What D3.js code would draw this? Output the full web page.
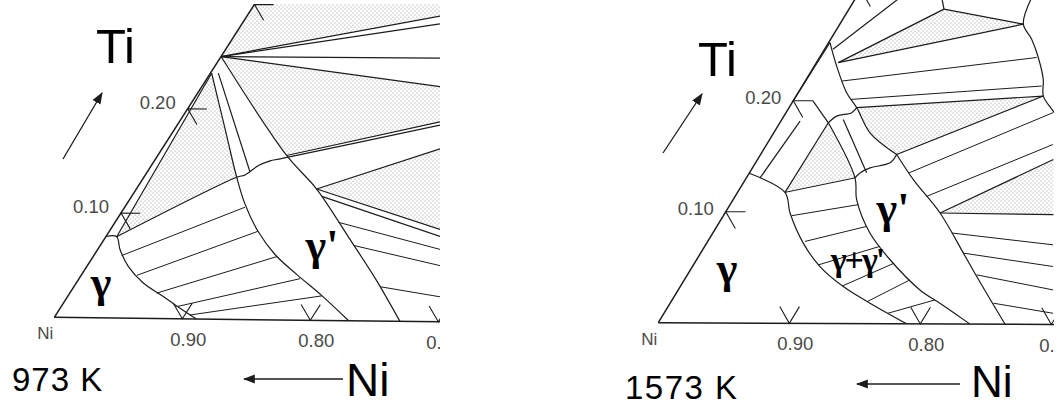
<!DOCTYPE html>
<html>
<head>
<meta charset="utf-8">
<script src="https://cdn.jsdelivr.net/npm/d3@7/dist/d3.min.js"></script>
<style>
html,body{margin:0;padding:0;background:#fff;}
svg{display:block;}
</style>
</head>
<body>
<svg id="chart" width="1062" height="410"></svg>
<script>
// Isothermal sections, Ni-rich corner. Every point is [xNi, xTi] (mole fractions).
const niTicks = [0.90, 0.80, 0.70];
const niTickLabels = ["0.90", "0.80", "0.70"];
const tiTicks = [0.10, 0.20, 0.30];
const tiTickLabels = ["0.10", "0.20", ""];

// ---------- 973 K ----------
const gammaBoundary973 = [[0.9225,0.0775],[0.9142,0.0774],[0.9174,0.0653],[0.9186,0.0493],[0.9144,0.0336],[0.9048,0.021],[0.897,0.01],[0.889,0]];
const bandLine973 = [[0.9142,0.0774],[0.765,0.234]];
const gpLeft973 = [[0.765,0.234],[0.7797,0.1815],[0.7927,0.1353],[0.7984,0.1098],[0.8006,0.0841],[0.7978,0.0622],[0.7897,0.0433],[0.7796,0.0234],[0.770,0]];
const gpRight973 = [[0.75,0.25],[0.7435,0.1566],[0.7352,0.125],[0.7319,0.0774],[0.7298,0.0394],[0.730,0]];
const thinLine973 = [[0.7597,0.2342],[0.7798,0.1405]];
const threePhase973 = [[0.9142,0.0774],[0.7927,0.1353],[0.7851,0.1376],[0.7707,0.1464],[0.759,0.1513],[0.7503,0.1533],[0.6091,0.1871]];
const straight973 = [
  [[0.7435,0.1566],[0.6075,0.1903]],
  [[0.75,0.25],[0.559,0.291]],
  [[0.75,0.25],[0.5629,0.2836]],
  [[0.75,0.25],[0.5785,0.251]],
  [[0.75,0.25],[0.5914,0.2239]],
  [[0.7352,0.125],[0.6198,0.1647]],
  [[0.7352,0.125],[0.6565,0.088]],
  [[0.7345,0.118],[0.6597,0.0813]]
];
const ties973 = [
  [[0.9189,0.0595],[0.7998,0.1069]],
  [[0.9161,0.0408],[0.8006,0.0841]],
  [[0.9084,0.0242],[0.7971,0.0603]],
  [[0.8989,0.0115],[0.7891,0.0395]],
  [[0.8923,0.0037],[0.7796,0.0234]],
  [[0.733,0.0935],[0.6656,0.0689]],
  [[0.7317,0.0717],[0.6731,0.0535]],
  [[0.7296,0.0327],[0.6873,0.0238]]
];
const dotted973 = [
  [[0.75,0.25],[0.69,0.31],[0.5518,0.3066],[0.559,0.291]],
  [[0.75,0.25],[0.5914,0.2239],[0.6075,0.1903],[0.7435,0.1566]],
  [[0.9142,0.0774],[0.765,0.234],[0.7797,0.1815],[0.7927,0.1353]],
  [[0.7352,0.125],[0.6198,0.1647],[0.6565,0.088]]
];

// ---------- 1573 K ----------
const gammaBoundary1573 = [[0.8654,0.1346],[0.8463,0.1176],[0.8514,0.0991],[0.8544,0.0721],[0.8518,0.0511],[0.8427,0.0332],[0.8295,0.0184],[0.8104,0]];
const gpLeft1573 = [[0.7828,0.1803],[0.7864,0.1309],[0.7946,0.1114],[0.799,0.0814],[0.7952,0.0575],[0.7855,0.0305],[0.776,0.0186],[0.762,0]];
const gpRight1573 = [[0.7443,0.1521],[0.7425,0.1296],[0.7366,0.0997],[0.7362,0.0638],[0.7362,0.0428],[0.7353,0]];
const gpTop1573 = [[0.7864,0.1309],[0.7804,0.1354],[0.7705,0.14],[0.753,0.1446],[0.7443,0.1521]];
const apexLine1573 = [[0.7828,0.1803],[0.7735,0.1863],[0.7605,0.1895],[0.7545,0.194]];
const innerArc1573 = [[0.7443,0.1521],[0.7553,0.1715],[0.7545,0.194],[0.7557,0.2074],[0.7517,0.2314],[0.7466,0.2524]];
const outerArc1573 = [[0.5738,0.2923],[0.5906,0.2697],[0.5908,0.2562],[0.5937,0.2398],[0.5994,0.2202],[0.6066,0.2052],[0.6056,0.1917],[0.6047,0.1798]];
const straight1573 = [
  [[0.8591,0.1305],[0.8037,0.1817]],
  [[0.785,0.2],[0.7828,0.1803]],
  [[0.8,0.2],[0.7466,0.2524]],
  [[0.8463,0.1176],[0.7828,0.1803]],
  [[0.7699,0.1834],[0.7753,0.1355]],
  [[0.6448,0.2829],[0.749,0.2344]],
  [[0.749,0.2344],[0.5906,0.2697]],
  [[0.6448,0.2829],[0.5906,0.2697]],
  [[0.6448,0.2829],[0.6419,0.2919]],
  [[0.7472,0.2464],[0.6756,0.2917]],
  [[0.7545,0.194],[0.6066,0.2052]],
  [[0.6066,0.2052],[0.7443,0.1521]],
  [[0.7366,0.0997],[0.6266,0.1482]],
  [[0.7366,0.0997],[0.6506,0.0987]]
];
const ties1573 = [
  [[0.8463,0.1176],[0.7864,0.1309]],
  [[0.8513,0.0967],[0.7955,0.1069]],
  [[0.8524,0.0736],[0.7985,0.0874]],
  [[0.852,0.0527],[0.7975,0.0694]],
  [[0.843,0.0338],[0.7935,0.0545]],
  [[0.831,0.0198],[0.7887,0.0395]],
  [[0.8202,0.0094],[0.7784,0.0216]],
  [[0.754,0.2179],[0.5949,0.2398]],
  [[0.7552,0.2014],[0.6035,0.2142]],
  [[0.743,0.1356],[0.6065,0.1903]],
  [[0.7396,0.1146],[0.6204,0.1617]],
  [[0.7364,0.0818],[0.664,0.0716]],
  [[0.7362,0.0638],[0.6735,0.0521]],
  [[0.7355,0.0443],[0.6836,0.0311]],
  [[0.7351,0.0189],[0.6938,0.0101]]
];
const dotted1573 = [
  [[0.8463,0.1176],[0.7828,0.1803],[0.7864,0.1309]],
  [[0.6448,0.2829],[0.749,0.2344],[0.5906,0.2697]],
  [[0.7545,0.194],[0.6066,0.2052],[0.7443,0.1521],[0.7553,0.1715]],
  [[0.7366,0.0997],[0.6266,0.1482],[0.6506,0.0987]]
];

const svg = d3.select("#chart");
const defs = svg.append("defs");

// fine dot screen used for three-phase fields
const pat = defs.append("pattern").attr("id", "dots")
  .attr("patternUnits", "userSpaceOnUse").attr("width", 4).attr("height", 4);
pat.append("circle").attr("cx", 1).attr("cy", 1).attr("r", 0.6).attr("fill", "#8a8a8a");
pat.append("circle").attr("cx", 3).attr("cy", 3).attr("r", 0.6).attr("fill", "#8a8a8a");

const sans = "'Liberation Sans', Arial, Helvetica, sans-serif";
const serif = "'Liberation Serif', 'Times New Roman', serif";
const ink = "#1c1c1c";

defs.append("marker").attr("id", "head").attr("viewBox", "0 0 10 10")
  .attr("refX", 9).attr("refY", 5).attr("markerWidth", 12).attr("markerHeight", 12)
  .attr("markerUnits", "userSpaceOnUse").attr("orient", "auto")
  .append("path").attr("d", "M0,1.2 L10,5 L0,8.8 Z").attr("fill", ink);

function drawPanel(cfg) {
  // Two linear scales per barycentric direction: third component along the base, xTi up the side.
  const baseX = d3.scaleLinear().domain([0, 1]).range([cfg.corner[0], cfg.corner[0] + cfg.base[0]]);
  const baseY = d3.scaleLinear().domain([0, 1]).range([cfg.corner[1], cfg.corner[1] + cfg.base[1]]);
  const sideX = d3.scaleLinear().domain([0, 1]).range([0, cfg.side[0]]);
  const sideY = d3.scaleLinear().domain([0, 1]).range([0, cfg.side[1]]);
  const px = d => baseX(1 - d[0] - d[1]) + sideX(d[1]);
  const py = d => baseY(1 - d[0] - d[1]) + sideY(d[1]);

  const straight = d3.line().x(px).y(py);
  const smooth = d3.line().x(px).y(py).curve(d3.curveCatmullRom.alpha(0.5));

  const clipId = "clip" + cfg.key;
  defs.append("clipPath").attr("id", clipId).append("rect")
    .attr("x", cfg.clip[0]).attr("y", cfg.clip[1])
    .attr("width", cfg.clip[2] - cfg.clip[0]).attr("height", cfg.clip[3] - cfg.clip[1]);
  const textClipId = "tclip" + cfg.key;
  defs.append("clipPath").attr("id", textClipId).append("rect")
    .attr("x", cfg.clip[0]).attr("y", 0)
    .attr("width", cfg.clip[2] - cfg.clip[0]).attr("height", 410);

  const g = svg.append("g").attr("clip-path", `url(#${clipId})`);

  g.selectAll("path.dots").data(cfg.dotted).join("path")
    .attr("class", "dots").attr("d", d => straight(d) + "Z")
    .attr("fill", "url(#dots)").attr("stroke", "none");

  // triangle sides: Ni-Ti binary and Ni-X binary
  const sides = [[[1, 0], [0.68, 0.32]], [[1, 0], [0.68, 0]]];
  g.selectAll("path.side").data(sides).join("path").attr("class", "side")
    .attr("d", straight).attr("fill", "none").attr("stroke", ink).attr("stroke-width", 1.5);

  g.selectAll("path.curve").data(cfg.curves).join("path").attr("class", "curve")
    .attr("d", smooth).attr("fill", "none").attr("stroke", ink).attr("stroke-width", 1.2);

  g.selectAll("path.line").data(cfg.lines).join("path").attr("class", "line")
    .attr("d", straight).attr("fill", "none").attr("stroke", ink).attr("stroke-width", 1.2);

  g.selectAll("path.tie").data(cfg.ties).join("path").attr("class", "tie")
    .attr("d", straight).attr("fill", "none").attr("stroke", ink).attr("stroke-width", 1);

  // tick marks: short strokes parallel to the other two sides
  const L = 0.015;
  const baseTicks = niTicks.map(v => [[v - L, L], [v, 0], [v, L]]);
  const sideTicks = tiTicks.map(v => [[1 - v - L, v], [1 - v, v], [1 - v, v - L]]);
  g.selectAll("path.tick").data(baseTicks.concat(sideTicks)).join("path").attr("class", "tick")
    .attr("d", straight).attr("fill", "none").attr("stroke", ink).attr("stroke-width", 1.1);

  const tg = svg.append("g").attr("clip-path", `url(#${textClipId})`);
  tg.selectAll("text.nt").data(niTicks).join("text").attr("class", "nt")
    .attr("x", v => px([v, 0]) + 6).attr("y", v => py([v, 0]) + 27)
    .attr("text-anchor", "middle").attr("font-family", sans).attr("font-size", 18.5)
    .attr("fill", "#4a4a4a").text((v, i) => niTickLabels[i]);

  tg.selectAll("text.tt").data(tiTicks).join("text").attr("class", "tt")
    .attr("x", v => px([1 - v, v]) - 12).attr("y", v => py([1 - v, v]) + cfg.tiDy)
    .attr("text-anchor", "end").attr("font-family", sans).attr("font-size", 18.5)
    .attr("fill", "#4a4a4a").text((v, i) => tiTickLabels[i]);

  tg.append("text").attr("x", px([1, 0]) - 9).attr("y", py([1, 0]) + 22)
    .attr("text-anchor", "middle").attr("font-family", sans).attr("font-size", 17)
    .attr("fill", "#4a4a4a").text("Ni");

  const t = cfg.text;
  svg.append("text").attr("x", t.ti[0]).attr("y", t.ti[1]).attr("font-family", sans)
    .attr("font-size", 49).attr("fill", "#000").text("Ti");
  svg.append("line").attr("x1", t.upArrow[0]).attr("y1", t.upArrow[1])
    .attr("x2", t.upArrow[2]).attr("y2", t.upArrow[3])
    .attr("stroke", ink).attr("stroke-width", 1.3).attr("marker-end", "url(#head)");
  svg.append("text").attr("x", t.temp[0]).attr("y", t.temp[1]).attr("font-family", sans)
    .attr("font-size", 33).attr("letter-spacing", t.temp[2]).attr("fill", "#000").text(cfg.label);
  svg.append("line").attr("x1", t.niArrow[0]).attr("y1", t.niArrow[1])
    .attr("x2", t.niArrow[2]).attr("y2", t.niArrow[1])
    .attr("stroke", ink).attr("stroke-width", 1.5).attr("marker-end", "url(#head)");
  svg.append("text").attr("x", t.ni[0]).attr("y", t.ni[1]).attr("font-family", sans)
    .attr("font-size", t.ni[2]).attr("fill", "#000").text("Ni");

  svg.selectAll("text.ph" + cfg.key).data(t.phases).join("text").attr("class", "ph" + cfg.key)
    .attr("x", d => d[0]).attr("y", d => d[1]).attr("font-size", d => d[2])
    .attr("letter-spacing", d => d[4] || 0)
    .attr("font-family", serif).attr("font-weight", "bold").attr("fill", "#000")
    .attr("text-anchor", "middle").text(d => d[3]);
}

drawPanel({
  key: "a", label: "973 K",
  corner: [54.3, 317.3], base: [1280, 15], side: [667, -1043],
  clip: [0, 4, 440, 330], tiDy: 0,
  dotted: dotted973,
  curves: [gammaBoundary973, gpLeft973, gpRight973, threePhase973],
  lines: straight973.concat([bandLine973, thinLine973]),
  ties: ties973,
  text: {
    ti: [96, 63], upArrow: [63, 159, 102, 93],
    temp: [12, 391, "1px"], niArrow: [343, 379, 244], ni: [346, 396, 46],
    phases: [[101, 297, 44, "γ"], [322, 260, 44, "γ'"]]
  }
});

drawPanel({
  key: "b", label: "1573 K",
  corner: [658.3, 322.7], base: [1310, 6], side: [675, -1110],
  clip: [600, 0, 1054, 335], tiDy: 3,
  dotted: dotted1573,
  curves: [gammaBoundary1573, gpLeft1573, gpRight1573, gpTop1573, apexLine1573, innerArc1573, outerArc1573],
  lines: straight1573,
  ties: ties1573,
  text: {
    ti: [698, 76], upArrow: [663, 153, 702, 94],
    temp: [625, 399, "1.5px"], niArrow: [960, 384, 857], ni: [971, 397, 44],
    phases: [[727, 283, 44, "γ"], [893, 223, 44, "γ'"], [857, 271, 34, "γ+γ'", "-2px"]]
  }
});
</script>
</body>
</html>
